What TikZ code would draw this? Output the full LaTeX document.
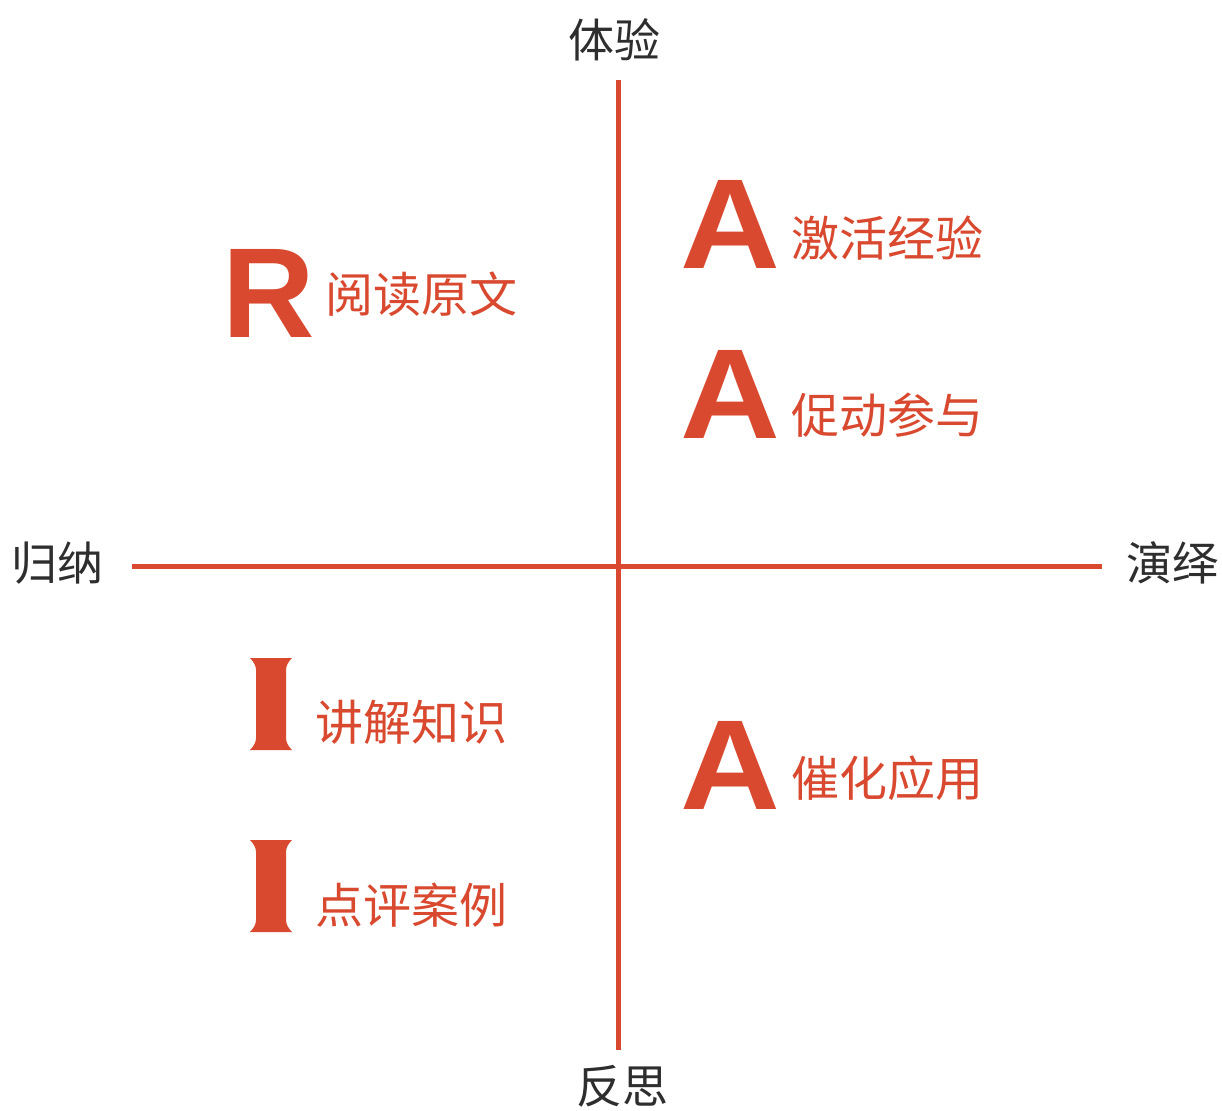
\documentclass[tikz,border=0pt]{standalone}
\usepackage{fontspec}
\newfontfamily\cjk{Noto Sans CJK SC}
\newfontfamily\letterfont{Liberation Sans}
\definecolor{accent}{HTML}{D9492F}
\definecolor{axistext}{HTML}{2E2E2E}
\begin{document}
\begin{tikzpicture}[x=1pt,y=-1pt,
  axis/.style={draw=accent,line width=5pt},
  axlabel/.style={font=\cjk\fontsize{46}{46}\selectfont,text=axistext,inner sep=0pt},
  item/.style={font=\cjk\fontsize{48}{48}\selectfont,text=accent,inner sep=0pt,anchor=west},
  bigletter/.style={font=\letterfont\bfseries\fontsize{128}{128}\selectfont,text=accent,inner sep=0pt,anchor=west},
  wideletter/.style={bigletter,xscale=1.08}]
\useasboundingbox (0,0) rectangle (1222,1110);
\fill[white] (0,0) rectangle (1222,1110);
% axes
\coordinate (top) at (618,80);
\coordinate (bottom) at (618,1050);
\coordinate (left) at (132,566);
\coordinate (right) at (1102,566);
\draw[axis] (top) -- (bottom);
\draw[axis] (left) -- (right);
% axis labels
\node[axlabel] (tiyan) at (614,40) {体验};
\node[axlabel] (fansi) at (622,1086) {反思};
\node[axlabel] (guina) at (57,563) {归纳};
\node[axlabel] (yanyi) at (1172,563) {演绎};
% letters
\node[bigletter] (R) at (222,293) {R};
\node[item] (t1) at (325,294) {阅读原文};
\node[wideletter] (A1) at (680,224) {A};
\node[item] (t2) at (791,238) {激活经验};
\node[wideletter] (A2) at (680,394) {A};
\node[item] (t3) at (791,415) {促动参与};
\node[wideletter] (A3) at (680,765) {A};
\node[item] (t4) at (791,778) {催化应用};
% I columns
\foreach \yy/\nm in {658/I1,840/I2}{
  \fill[accent] (250,\yy) -- (292,\yy) .. controls (288,\yy+4) and (286,\yy+8) .. (286,\yy+12)
    -- (286,\yy+80) .. controls (286,\yy+84) and (288,\yy+88) .. (292,\yy+92)
    -- (250,\yy+92) .. controls (254,\yy+88) and (256,\yy+84) .. (256,\yy+80)
    -- (256,\yy+12) .. controls (256,\yy+8) and (254,\yy+4) .. (250,\yy) -- cycle;
  \coordinate (\nm) at (271,\yy+46);
}
\node[item] (t5) at (315,722) {讲解知识};
\node[item] (t6) at (315,905) {点评案例};
\end{tikzpicture}
\end{document}
